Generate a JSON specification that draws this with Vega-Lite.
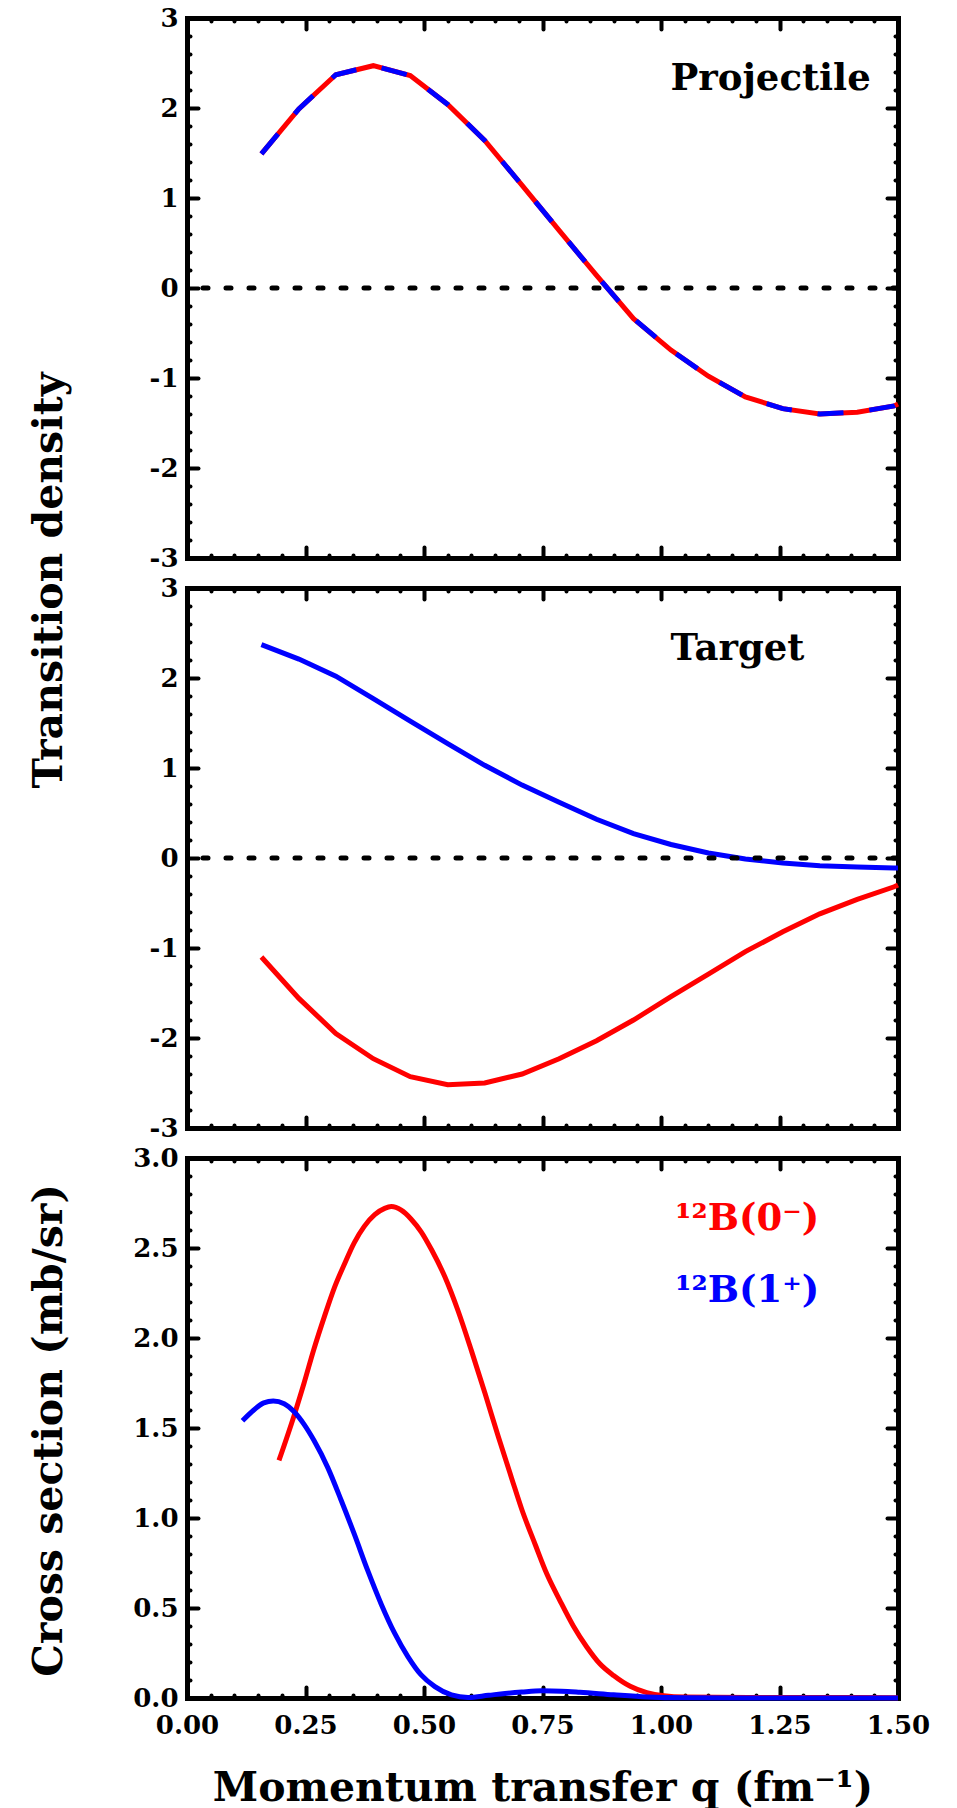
{
  "$schema": "https://vega.github.io/schema/vega-lite/v6.json",
  "background": "white",
  "padding": {"left": 27, "top": 5, "right": 5, "bottom": 5},
  "spacing": 30,
  "bounds": "flush",
  "config": {
    "view": {"stroke": null},
    "axis": {
      "domainColor": "black", "domainWidth": 5, "domainCap": "square",
      "tickColor": "black", "tickWidth": 4, "tickCap": "round", "grid": false,
      "labelFont": "DejaVu Serif", "labelFontSize": 26, "labelFontWeight": "bold", "labelColor": "black",
      "labelOverlap": false, "labelFlush": false, "labelBound": false,
      "titleFont": "DejaVu Serif", "titleFontSize": 41, "titleFontWeight": "bold", "titleColor": "black"
    },
    "text": {"font": "DejaVu Serif", "fontWeight": "bold", "fontSize": 37, "align": "left", "baseline": "alphabetic"}
  },
  "datasets": {
    "curves": [
      {"panel": "projectile", "state": "0-", "q": 0.157, "v": 1.49},
      {"panel": "projectile", "state": "0-", "q": 0.236, "v": 1.99},
      {"panel": "projectile", "state": "0-", "q": 0.314, "v": 2.37},
      {"panel": "projectile", "state": "0-", "q": 0.393, "v": 2.47},
      {"panel": "projectile", "state": "0-", "q": 0.471, "v": 2.36},
      {"panel": "projectile", "state": "0-", "q": 0.550, "v": 2.04},
      {"panel": "projectile", "state": "0-", "q": 0.628, "v": 1.64},
      {"panel": "projectile", "state": "0-", "q": 0.707, "v": 1.14},
      {"panel": "projectile", "state": "0-", "q": 0.785, "v": 0.64},
      {"panel": "projectile", "state": "0-", "q": 0.864, "v": 0.14},
      {"panel": "projectile", "state": "0-", "q": 0.942, "v": -0.34},
      {"panel": "projectile", "state": "0-", "q": 1.021, "v": -0.69},
      {"panel": "projectile", "state": "0-", "q": 1.100, "v": -0.98},
      {"panel": "projectile", "state": "0-", "q": 1.178, "v": -1.21},
      {"panel": "projectile", "state": "0-", "q": 1.257, "v": -1.34},
      {"panel": "projectile", "state": "0-", "q": 1.335, "v": -1.40},
      {"panel": "projectile", "state": "0-", "q": 1.414, "v": -1.38},
      {"panel": "projectile", "state": "0-", "q": 1.492, "v": -1.31},
      {"panel": "projectile", "state": "0-", "q": 1.500, "v": -1.29},
      {"panel": "projectile", "state": "1+", "q": 0.157, "v": 1.49},
      {"panel": "projectile", "state": "1+", "q": 0.236, "v": 1.99},
      {"panel": "projectile", "state": "1+", "q": 0.314, "v": 2.37},
      {"panel": "projectile", "state": "1+", "q": 0.393, "v": 2.47},
      {"panel": "projectile", "state": "1+", "q": 0.471, "v": 2.36},
      {"panel": "projectile", "state": "1+", "q": 0.550, "v": 2.04},
      {"panel": "projectile", "state": "1+", "q": 0.628, "v": 1.64},
      {"panel": "projectile", "state": "1+", "q": 0.707, "v": 1.14},
      {"panel": "projectile", "state": "1+", "q": 0.785, "v": 0.64},
      {"panel": "projectile", "state": "1+", "q": 0.864, "v": 0.14},
      {"panel": "projectile", "state": "1+", "q": 0.942, "v": -0.34},
      {"panel": "projectile", "state": "1+", "q": 1.021, "v": -0.69},
      {"panel": "projectile", "state": "1+", "q": 1.100, "v": -0.98},
      {"panel": "projectile", "state": "1+", "q": 1.178, "v": -1.21},
      {"panel": "projectile", "state": "1+", "q": 1.257, "v": -1.34},
      {"panel": "projectile", "state": "1+", "q": 1.335, "v": -1.40},
      {"panel": "projectile", "state": "1+", "q": 1.414, "v": -1.38},
      {"panel": "projectile", "state": "1+", "q": 1.492, "v": -1.31},
      {"panel": "projectile", "state": "1+", "q": 1.500, "v": -1.29},
      {"panel": "target", "state": "0-", "q": 0.157, "v": -1.10},
      {"panel": "target", "state": "0-", "q": 0.236, "v": -1.56},
      {"panel": "target", "state": "0-", "q": 0.314, "v": -1.95},
      {"panel": "target", "state": "0-", "q": 0.393, "v": -2.23},
      {"panel": "target", "state": "0-", "q": 0.471, "v": -2.43},
      {"panel": "target", "state": "0-", "q": 0.550, "v": -2.52},
      {"panel": "target", "state": "0-", "q": 0.628, "v": -2.50},
      {"panel": "target", "state": "0-", "q": 0.707, "v": -2.40},
      {"panel": "target", "state": "0-", "q": 0.785, "v": -2.23},
      {"panel": "target", "state": "0-", "q": 0.864, "v": -2.03},
      {"panel": "target", "state": "0-", "q": 0.942, "v": -1.80},
      {"panel": "target", "state": "0-", "q": 1.021, "v": -1.54},
      {"panel": "target", "state": "0-", "q": 1.100, "v": -1.29},
      {"panel": "target", "state": "0-", "q": 1.178, "v": -1.04},
      {"panel": "target", "state": "0-", "q": 1.257, "v": -0.82},
      {"panel": "target", "state": "0-", "q": 1.335, "v": -0.62},
      {"panel": "target", "state": "0-", "q": 1.414, "v": -0.46},
      {"panel": "target", "state": "0-", "q": 1.492, "v": -0.32},
      {"panel": "target", "state": "0-", "q": 1.500, "v": -0.30},
      {"panel": "target", "state": "1+", "q": 0.157, "v": 2.37},
      {"panel": "target", "state": "1+", "q": 0.236, "v": 2.21},
      {"panel": "target", "state": "1+", "q": 0.314, "v": 2.02},
      {"panel": "target", "state": "1+", "q": 0.393, "v": 1.77},
      {"panel": "target", "state": "1+", "q": 0.471, "v": 1.52},
      {"panel": "target", "state": "1+", "q": 0.550, "v": 1.27},
      {"panel": "target", "state": "1+", "q": 0.628, "v": 1.03},
      {"panel": "target", "state": "1+", "q": 0.707, "v": 0.81},
      {"panel": "target", "state": "1+", "q": 0.785, "v": 0.62},
      {"panel": "target", "state": "1+", "q": 0.864, "v": 0.43},
      {"panel": "target", "state": "1+", "q": 0.942, "v": 0.27},
      {"panel": "target", "state": "1+", "q": 1.021, "v": 0.15},
      {"panel": "target", "state": "1+", "q": 1.100, "v": 0.055},
      {"panel": "target", "state": "1+", "q": 1.178, "v": -0.01},
      {"panel": "target", "state": "1+", "q": 1.257, "v": -0.056},
      {"panel": "target", "state": "1+", "q": 1.335, "v": -0.085},
      {"panel": "target", "state": "1+", "q": 1.414, "v": -0.10},
      {"panel": "target", "state": "1+", "q": 1.492, "v": -0.11},
      {"panel": "target", "state": "1+", "q": 1.500, "v": -0.11},
      {"panel": "cross", "state": "0-", "q": 0.194, "v": 1.32},
      {"panel": "cross", "state": "0-", "q": 0.226, "v": 1.57},
      {"panel": "cross", "state": "0-", "q": 0.247, "v": 1.75},
      {"panel": "cross", "state": "0-", "q": 0.268, "v": 1.94},
      {"panel": "cross", "state": "0-", "q": 0.290, "v": 2.12},
      {"panel": "cross", "state": "0-", "q": 0.311, "v": 2.28},
      {"panel": "cross", "state": "0-", "q": 0.332, "v": 2.41},
      {"panel": "cross", "state": "0-", "q": 0.353, "v": 2.53},
      {"panel": "cross", "state": "0-", "q": 0.374, "v": 2.62},
      {"panel": "cross", "state": "0-", "q": 0.396, "v": 2.685},
      {"panel": "cross", "state": "0-", "q": 0.417, "v": 2.72},
      {"panel": "cross", "state": "0-", "q": 0.431, "v": 2.73},
      {"panel": "cross", "state": "0-", "q": 0.452, "v": 2.71},
      {"panel": "cross", "state": "0-", "q": 0.473, "v": 2.66},
      {"panel": "cross", "state": "0-", "q": 0.494, "v": 2.59},
      {"panel": "cross", "state": "0-", "q": 0.516, "v": 2.49},
      {"panel": "cross", "state": "0-", "q": 0.544, "v": 2.34},
      {"panel": "cross", "state": "0-", "q": 0.572, "v": 2.15},
      {"panel": "cross", "state": "0-", "q": 0.600, "v": 1.93},
      {"panel": "cross", "state": "0-", "q": 0.629, "v": 1.69},
      {"panel": "cross", "state": "0-", "q": 0.657, "v": 1.45},
      {"panel": "cross", "state": "0-", "q": 0.685, "v": 1.22},
      {"panel": "cross", "state": "0-", "q": 0.706, "v": 1.05},
      {"panel": "cross", "state": "0-", "q": 0.735, "v": 0.85},
      {"panel": "cross", "state": "0-", "q": 0.759, "v": 0.69},
      {"panel": "cross", "state": "0-", "q": 0.787, "v": 0.54},
      {"panel": "cross", "state": "0-", "q": 0.815, "v": 0.40},
      {"panel": "cross", "state": "0-", "q": 0.843, "v": 0.285},
      {"panel": "cross", "state": "0-", "q": 0.871, "v": 0.19},
      {"panel": "cross", "state": "0-", "q": 0.900, "v": 0.125},
      {"panel": "cross", "state": "0-", "q": 0.935, "v": 0.065},
      {"panel": "cross", "state": "0-", "q": 0.970, "v": 0.03},
      {"panel": "cross", "state": "0-", "q": 1.006, "v": 0.012},
      {"panel": "cross", "state": "0-", "q": 1.050, "v": 0.005},
      {"panel": "cross", "state": "0-", "q": 1.200, "v": 0.003},
      {"panel": "cross", "state": "0-", "q": 1.500, "v": 0.002},
      {"panel": "cross", "state": "1+", "q": 0.117, "v": 1.54},
      {"panel": "cross", "state": "1+", "q": 0.141, "v": 1.60},
      {"panel": "cross", "state": "1+", "q": 0.162, "v": 1.64},
      {"panel": "cross", "state": "1+", "q": 0.182, "v": 1.65},
      {"panel": "cross", "state": "1+", "q": 0.205, "v": 1.635},
      {"panel": "cross", "state": "1+", "q": 0.226, "v": 1.59},
      {"panel": "cross", "state": "1+", "q": 0.247, "v": 1.52},
      {"panel": "cross", "state": "1+", "q": 0.268, "v": 1.43},
      {"panel": "cross", "state": "1+", "q": 0.297, "v": 1.28},
      {"panel": "cross", "state": "1+", "q": 0.325, "v": 1.10},
      {"panel": "cross", "state": "1+", "q": 0.353, "v": 0.91},
      {"panel": "cross", "state": "1+", "q": 0.381, "v": 0.71},
      {"panel": "cross", "state": "1+", "q": 0.410, "v": 0.52},
      {"panel": "cross", "state": "1+", "q": 0.438, "v": 0.36},
      {"panel": "cross", "state": "1+", "q": 0.466, "v": 0.23},
      {"panel": "cross", "state": "1+", "q": 0.494, "v": 0.128},
      {"panel": "cross", "state": "1+", "q": 0.523, "v": 0.063},
      {"panel": "cross", "state": "1+", "q": 0.558, "v": 0.017},
      {"panel": "cross", "state": "1+", "q": 0.593, "v": 0.003},
      {"panel": "cross", "state": "1+", "q": 0.636, "v": 0.015},
      {"panel": "cross", "state": "1+", "q": 0.671, "v": 0.025},
      {"panel": "cross", "state": "1+", "q": 0.706, "v": 0.033},
      {"panel": "cross", "state": "1+", "q": 0.749, "v": 0.040},
      {"panel": "cross", "state": "1+", "q": 0.790, "v": 0.038},
      {"panel": "cross", "state": "1+", "q": 0.829, "v": 0.032},
      {"panel": "cross", "state": "1+", "q": 0.900, "v": 0.018},
      {"panel": "cross", "state": "1+", "q": 0.970, "v": 0.006},
      {"panel": "cross", "state": "1+", "q": 1.050, "v": 0.001},
      {"panel": "cross", "state": "1+", "q": 1.200, "v": 0.0},
      {"panel": "cross", "state": "1+", "q": 1.500, "v": 0.0}
    ]
  },
  "vconcat": [
    {
      "width": 711, "height": 540,
      "layer": [
        {
          "data": {"name": "curves"},
          "transform": [{"filter": "datum.panel == 'projectile' && datum.state == '0-'"}],
          "mark": {"type": "line", "strokeWidth": 5, "color": "#ff0000"},
          "encoding": {
            "x": {"field": "q", "type": "quantitative", "scale": {"domain": [0, 1.5], "nice": false, "zero": false},
              "axis": {"orient": "bottom", "values": [0,0.05,0.1,0.15,0.2,0.25,0.3,0.35,0.4,0.45,0.5,0.55,0.6,0.65,0.7,0.75,0.8,0.85,0.9,0.95,1,1.05,1.1,1.15,1.2,1.25,1.3,1.35,1.4,1.45,1.5],
                "tickSize": {"condition": {"test": "abs(datum.value*4 - round(datum.value*4)) < 0.001", "value": -11}, "value": -3},
                "labels": false, "title": null}},
            "y": {"field": "v", "type": "quantitative", "scale": {"domain": [-3, 3], "nice": false, "zero": false},
              "axis": {"orient": "left", "values": [-3,-2.8,-2.6,-2.4,-2.2,-2,-1.8,-1.6,-1.4,-1.2,-1,-0.8,-0.6,-0.4,-0.2,0,0.2,0.4,0.6,0.8,1,1.2,1.4,1.6,1.8,2,2.2,2.4,2.6,2.8,3],
                "tickSize": {"condition": {"test": "abs(datum.value - round(datum.value)) < 0.001", "value": -11}, "value": -3},
                "labelExpr": "abs(datum.value - round(datum.value)) < 0.001 ? (round(datum.value) < 0 ? '-' + abs(round(datum.value)) : '' + round(datum.value)) : ''",
                "labelPadding": 20,
                "title": "Transition density", "titleX": -126, "titleY": 562, "titleAngle": -90, "titleAlign": "center", "titleBaseline": "alphabetic"}}
          }
        },
        {
          "data": {"name": "curves"},
          "transform": [{"filter": "datum.panel == 'projectile' && datum.state == '1+'"}],
          "mark": {"type": "line", "strokeWidth": 5, "color": "#0000ff", "strokeDash": [26, 26]},
          "encoding": {
            "x": {"field": "q", "type": "quantitative", "scale": {"domain": [0, 1.5], "nice": false, "zero": false}, "axis": null},
            "y": {"field": "v", "type": "quantitative", "scale": {"domain": [-3, 3], "nice": false, "zero": false}, "axis": null}
          }
        },
        {
          "data": {"values": [{}]},
          "mark": {"type": "rule", "color": "black", "strokeWidth": 5, "strokeDash": [5, 18], "strokeCap": "round"},
          "encoding": {
            "y": {"datum": 0, "type": "quantitative", "scale": {"domain": [-3, 3], "nice": false, "zero": false}, "axis": null}
          }
        },
        {
          "data": {"values": [{"label": "Projectile"}]},
          "mark": {"type": "text", "color": "black"},
          "encoding": {
            "text": {"field": "label"},
            "x": {"datum": 1.02, "type": "quantitative", "scale": {"domain": [0, 1.5], "nice": false, "zero": false},
              "axis": {"orient": "top", "values": [0,0.05,0.1,0.15,0.2,0.25,0.3,0.35,0.4,0.45,0.5,0.55,0.6,0.65,0.7,0.75,0.8,0.85,0.9,0.95,1,1.05,1.1,1.15,1.2,1.25,1.3,1.35,1.4,1.45,1.5],
                "tickSize": {"condition": {"test": "abs(datum.value*4 - round(datum.value*4)) < 0.001", "value": -11}, "value": -3},
                "labels": false, "title": null}},
            "y": {"datum": 2.2, "type": "quantitative", "scale": {"domain": [-3, 3], "nice": false, "zero": false},
              "axis": {"orient": "right", "values": [-3,-2.8,-2.6,-2.4,-2.2,-2,-1.8,-1.6,-1.4,-1.2,-1,-0.8,-0.6,-0.4,-0.2,0,0.2,0.4,0.6,0.8,1,1.2,1.4,1.6,1.8,2,2.2,2.4,2.6,2.8,3],
                "tickSize": {"condition": {"test": "abs(datum.value - round(datum.value)) < 0.001", "value": -11}, "value": -3},
                "labels": false, "title": null}}
          }
        }
      ],
      "resolve": {"axis": {"x": "independent", "y": "independent"}}
    },
    {
      "width": 711, "height": 540,
      "layer": [
        {
          "data": {"name": "curves"},
          "transform": [{"filter": "datum.panel == 'target'"}],
          "mark": {"type": "line", "strokeWidth": 5},
          "encoding": {
            "x": {"field": "q", "type": "quantitative", "scale": {"domain": [0, 1.5], "nice": false, "zero": false},
              "axis": {"orient": "bottom", "values": [0,0.05,0.1,0.15,0.2,0.25,0.3,0.35,0.4,0.45,0.5,0.55,0.6,0.65,0.7,0.75,0.8,0.85,0.9,0.95,1,1.05,1.1,1.15,1.2,1.25,1.3,1.35,1.4,1.45,1.5],
                "tickSize": {"condition": {"test": "abs(datum.value*4 - round(datum.value*4)) < 0.001", "value": -11}, "value": -3},
                "labels": false, "title": null}},
            "y": {"field": "v", "type": "quantitative", "scale": {"domain": [-3, 3], "nice": false, "zero": false},
              "axis": {"orient": "left", "values": [-3,-2.8,-2.6,-2.4,-2.2,-2,-1.8,-1.6,-1.4,-1.2,-1,-0.8,-0.6,-0.4,-0.2,0,0.2,0.4,0.6,0.8,1,1.2,1.4,1.6,1.8,2,2.2,2.4,2.6,2.8,3],
                "tickSize": {"condition": {"test": "abs(datum.value - round(datum.value)) < 0.001", "value": -11}, "value": -3},
                "labelExpr": "abs(datum.value - round(datum.value)) < 0.001 ? (round(datum.value) < 0 ? '-' + abs(round(datum.value)) : '' + round(datum.value)) : ''",
                "labelPadding": 20, "title": null}},
            "color": {"field": "state", "type": "nominal", "scale": {"domain": ["0-", "1+"], "range": ["#ff0000", "#0000ff"]}, "legend": null}
          }
        },
        {
          "data": {"values": [{}]},
          "mark": {"type": "rule", "color": "black", "strokeWidth": 5, "strokeDash": [5, 18], "strokeCap": "round"},
          "encoding": {
            "y": {"datum": 0, "type": "quantitative", "scale": {"domain": [-3, 3], "nice": false, "zero": false}, "axis": null}
          }
        },
        {
          "data": {"values": [{"label": "Target"}]},
          "mark": {"type": "text", "color": "black"},
          "encoding": {
            "text": {"field": "label"},
            "x": {"datum": 1.02, "type": "quantitative", "scale": {"domain": [0, 1.5], "nice": false, "zero": false},
              "axis": {"orient": "top", "values": [0,0.05,0.1,0.15,0.2,0.25,0.3,0.35,0.4,0.45,0.5,0.55,0.6,0.65,0.7,0.75,0.8,0.85,0.9,0.95,1,1.05,1.1,1.15,1.2,1.25,1.3,1.35,1.4,1.45,1.5],
                "tickSize": {"condition": {"test": "abs(datum.value*4 - round(datum.value*4)) < 0.001", "value": -11}, "value": -3},
                "labels": false, "title": null}},
            "y": {"datum": 2.2, "type": "quantitative", "scale": {"domain": [-3, 3], "nice": false, "zero": false},
              "axis": {"orient": "right", "values": [-3,-2.8,-2.6,-2.4,-2.2,-2,-1.8,-1.6,-1.4,-1.2,-1,-0.8,-0.6,-0.4,-0.2,0,0.2,0.4,0.6,0.8,1,1.2,1.4,1.6,1.8,2,2.2,2.4,2.6,2.8,3],
                "tickSize": {"condition": {"test": "abs(datum.value - round(datum.value)) < 0.001", "value": -11}, "value": -3},
                "labels": false, "title": null}}
          }
        }
      ],
      "resolve": {"axis": {"x": "independent", "y": "independent"}}
    },
    {
      "width": 711, "height": 540,
      "layer": [
        {
          "data": {"name": "curves"},
          "transform": [{"filter": "datum.panel == 'cross'"}],
          "mark": {"type": "line", "strokeWidth": 5, "interpolate": "monotone"},
          "encoding": {
            "x": {"field": "q", "type": "quantitative", "scale": {"domain": [0, 1.5], "nice": false, "zero": false},
              "axis": {"orient": "bottom", "values": [0,0.05,0.1,0.15,0.2,0.25,0.3,0.35,0.4,0.45,0.5,0.55,0.6,0.65,0.7,0.75,0.8,0.85,0.9,0.95,1,1.05,1.1,1.15,1.2,1.25,1.3,1.35,1.4,1.45,1.5],
                "tickSize": {"condition": {"test": "abs(datum.value*4 - round(datum.value*4)) < 0.001", "value": -11}, "value": -3},
                "labelExpr": "abs(datum.value*4 - round(datum.value*4)) < 0.001 ? format(datum.value, '.2f') : ''",
                "labelPadding": 25,
                "title": "Momentum transfer q (fm⁻¹)", "titleX": 355.5, "titleY": 102, "titleAlign": "center", "titleBaseline": "alphabetic"}},
            "y": {"field": "v", "type": "quantitative", "scale": {"domain": [0, 3], "nice": false, "zero": false},
              "axis": {"orient": "left", "values": [0,0.1,0.2,0.3,0.4,0.5,0.6,0.7,0.8,0.9,1,1.1,1.2,1.3,1.4,1.5,1.6,1.7,1.8,1.9,2,2.1,2.2,2.3,2.4,2.5,2.6,2.7,2.8,2.9,3],
                "tickSize": {"condition": {"test": "abs(datum.value*2 - round(datum.value*2)) < 0.001", "value": -11}, "value": -3},
                "labelExpr": "abs(datum.value*2 - round(datum.value*2)) < 0.001 ? format(datum.value, '.1f') : ''",
                "labelPadding": 20,
                "title": "Cross section (mb/sr)", "titleX": -126, "titleY": 272, "titleAngle": -90, "titleAlign": "center", "titleBaseline": "alphabetic"}},
            "color": {"field": "state", "type": "nominal", "scale": {"domain": ["0-", "1+"], "range": ["#ff0000", "#0000ff"]}, "legend": null}
          }
        },
        {
          "data": {"values": [{"label": "¹²B(0⁻)"}]},
          "mark": {"type": "text", "color": "#ff0000"},
          "encoding": {
            "text": {"field": "label"},
            "x": {"datum": 1.03, "type": "quantitative", "scale": {"domain": [0, 1.5], "nice": false, "zero": false},
              "axis": {"orient": "top", "values": [0,0.05,0.1,0.15,0.2,0.25,0.3,0.35,0.4,0.45,0.5,0.55,0.6,0.65,0.7,0.75,0.8,0.85,0.9,0.95,1,1.05,1.1,1.15,1.2,1.25,1.3,1.35,1.4,1.45,1.5],
                "tickSize": {"condition": {"test": "abs(datum.value*4 - round(datum.value*4)) < 0.001", "value": -11}, "value": -3},
                "labels": false, "title": null}},
            "y": {"datum": 2.6, "type": "quantitative", "scale": {"domain": [0, 3], "nice": false, "zero": false},
              "axis": {"orient": "right", "values": [0,0.1,0.2,0.3,0.4,0.5,0.6,0.7,0.8,0.9,1,1.1,1.2,1.3,1.4,1.5,1.6,1.7,1.8,1.9,2,2.1,2.2,2.3,2.4,2.5,2.6,2.7,2.8,2.9,3],
                "tickSize": {"condition": {"test": "abs(datum.value*2 - round(datum.value*2)) < 0.001", "value": -11}, "value": -3},
                "labels": false, "title": null}}
          }
        },
        {
          "data": {"values": [{"label": "¹²B(1⁺)"}]},
          "mark": {"type": "text", "color": "#0000ff"},
          "encoding": {
            "text": {"field": "label"},
            "x": {"datum": 1.03, "type": "quantitative", "scale": {"domain": [0, 1.5], "nice": false, "zero": false}, "axis": null},
            "y": {"datum": 2.2, "type": "quantitative", "scale": {"domain": [0, 3], "nice": false, "zero": false}, "axis": null}
          }
        }
      ],
      "resolve": {"axis": {"x": "independent", "y": "independent"}}
    }
  ]
}
